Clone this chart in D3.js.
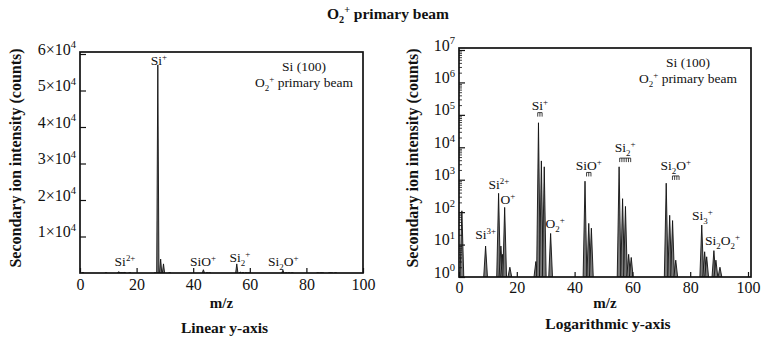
<!DOCTYPE html>
<html>
<head>
<meta charset="utf-8">
<script src="https://cdn.jsdelivr.net/npm/d3@7"></script>
<style>
  body { margin: 0; background: #fff; }
  svg { display: block; }
  text { font-family: "Liberation Serif", "Times New Roman", serif; fill: #111; }
</style>
</head>
<body>
<script>
const width = 761;
const height = 339;

// Peaks (m/z and secondary ion counts).
const peakMz     = [1.0, 9.2, 13.7, 14.5, 15.1, 15.8, 17.6, 26.6, 27.5, 28.5, 29.5, 31.7,
                    43.6, 44.9, 45.8, 55.4, 56.6, 57.6, 58.7, 59.6, 71.7, 72.9, 73.9, 75.0,
                    84.0, 85.0, 85.7, 88.2, 88.9, 90.3];
const peakCounts = [110, 9, 380, 9, 5, 140, 2, 3, 57000, 3800, 2500, 22,
                    900, 45, 32, 2500, 260, 150, 5, 4, 780, 80, 55, 3.3,
                    40, 6, 4.2, 6.5, 3.3, 2];

// Axis ticks.
const xTicks = [0, 20, 40, 60, 80, 100];
const linTicks = [1e4, 2e4, 3e4, 4e4, 5e4, 6e4];
const logTicks = [1, 10, 100, 1e3, 1e4, 1e5, 1e6, 1e7];

// Peak labels: text (_ = subscript, ^ = superscript), m/z, counts, isotope comb prongs.
const linLabelText   = ["Si^+", "Si^{2+}", "SiO^+", "Si_2^+", "Si_2O^+"];
const linLabelMz     = [27.9, 15.9, 43.5, 56.5, 71.8];
const linLabelCounts = [57000, 1900, 1900, 3000, 1900];

const logLabelText   = ["Si^+", "Si^{2+}", "O^+", "Si^{3+}", "O_2^+", "SiO^+", "Si_2^+", "Si_2O^+", "Si_3^+", "Si_2O_2^+"];
const logLabelMz     = [28.0, 13.8, 16.9, 9.2, 33.3, 44.9, 57.5, 75.0, 84.2, 91.2];
const logLabelCounts = [1.4e5, 500, 178, 15, 32, 2000, 7100, 2000, 57, 9.7];
const logLabelComb   = [3, 0, 0, 0, 0, 3, 6, 4, 0, 0];

const svg = d3.select("body").append("svg")
  .attr("width", width)
  .attr("height", height);

// Parse "Si_2O^+" style strings into [text, kind] pieces.
function parseRich(s) {
  const out = [];
  let buf = "", i = 0;
  while (i < s.length) {
    const c = s[i];
    if (c === "_" || c === "^") {
      if (buf) { out.push([buf, ""]); buf = ""; }
      let t;
      if (s[i + 1] === "{") {
        const j = s.indexOf("}", i);
        t = s.slice(i + 2, j);
        i = j + 1;
      } else {
        t = s[i + 1];
        i += 2;
      }
      out.push([t, c === "_" ? "sub" : "sup"]);
    } else {
      buf += c;
      i++;
    }
  }
  if (buf) out.push([buf, ""]);
  return out;
}

function richText(sel, s, fs) {
  let shift = 0;
  parseRich(s).forEach(([t, k]) => {
    const target = k === "sup" ? -0.38 * fs : k === "sub" ? 0.28 * fs : 0;
    sel.append("tspan")
      .attr("dy", target - shift)
      .attr("font-size", k ? fs * 0.66 : fs)
      .text(t);
    shift = target;
  });
}

// Title.
const title = svg.append("text")
  .attr("x", 388).attr("y", 19)
  .attr("text-anchor", "middle")
  .attr("font-weight", "bold");
richText(title, "O_2^+ primary beam", 15.5);

function drawPanel(opts) {
  const { x, y, top, base, ticksY, minorY, fmtY, labels, axisTitle, insetX } = opts;
  const g = svg.append("g");
  const x0 = x.range()[0];
  const x1 = opts.right;
  const y1 = opts.bottom;

  g.append("clipPath").attr("id", opts.id)
    .append("rect").attr("x", x0).attr("y", top).attr("width", x1 - x0).attr("height", y1 - top);

  // Spectrum peaks as narrow spikes.
  const hw = opts.halfWidth;
  g.append("g").attr("clip-path", `url(#${opts.id})`)
    .selectAll("path")
    .data(peakMz.map((m, i) => [m, peakCounts[i]]))
    .join("path")
    .attr("d", ([m, c]) => `M${x(m - hw)},${y(base)}L${x(m)},${y(c)}L${x(m + hw)},${y(base)}Z`)
    .attr("fill", "#7a7a7a")
    .attr("stroke", "#111")
    .attr("stroke-width", 0.9);

  // X axis with inward ticks.
  const xa = g.append("g")
    .attr("transform", `translate(0,${y1})`)
    .call(d3.axisBottom(x).tickValues(xTicks).tickSize(-5).tickPadding(opts.xPad));
  xa.attr("font-family", null).attr("font-size", opts.tickFont);
  xa.select(".domain").remove();
  xa.selectAll("line").attr("stroke", "#111").attr("stroke-width", 1.2);

  // Y axis with inward ticks.
  const ya = g.append("g")
    .attr("transform", `translate(${x0},0)`)
    .call(d3.axisLeft(y).tickValues(ticksY).tickSize(-6).tickPadding(4).tickFormat(""));
  ya.attr("font-family", null).attr("font-size", opts.tickFont);
  ya.select(".domain").remove();
  ya.selectAll("line").attr("stroke", "#111").attr("stroke-width", 1.2);
  ya.selectAll(".tick text").each(function (d) {
    richText(d3.select(this), fmtY(d), opts.tickFont);
  });

  if (minorY) {
    const ym = g.append("g")
      .attr("transform", `translate(${x0},0)`)
      .call(d3.axisLeft(y).tickValues(minorY).tickSize(-3).tickFormat(""));
    ym.select(".domain").remove();
    ym.selectAll("line").attr("stroke", "#111").attr("stroke-width", 0.8);
  }

  // Frame.
  g.append("rect")
    .attr("x", x0).attr("y", top)
    .attr("width", x1 - x0).attr("height", y1 - top)
    .attr("fill", "none")
    .attr("stroke", "#111")
    .attr("stroke-width", 1.7);

  // Peak labels.
  labels.text.forEach((s, i) => {
    const lx = x(labels.mz[i]);
    const ly = y(labels.counts[i]);
    const t = g.append("text")
      .attr("x", lx).attr("y", ly)
      .attr("text-anchor", "middle");
    richText(t, s, 13.5);
    const n = labels.comb ? labels.comb[i] : 0;
    if (n) {
      const sp = 2.2;
      const cy = ly + (s.includes("_") ? 6 : 2.5);
      const cx0 = lx - (n - 1) * sp / 2;
      let d = `M${cx0},${cy}H${cx0 + (n - 1) * sp}`;
      for (let k = 0; k < n; k++) d += `M${cx0 + k * sp},${cy}V${cy + 4}`;
      g.append("path").attr("d", d).attr("stroke", "#111").attr("stroke-width", 0.8).attr("fill", "none");
    }
  });

  // Inset text.
  g.append("text").attr("x", insetX).attr("y", top + 19)
    .attr("text-anchor", "middle").attr("font-size", 13.5).text("Si (100)");
  const inset = g.append("text").attr("x", insetX).attr("y", top + 35)
    .attr("text-anchor", "middle");
  richText(inset, "O_2^+ primary beam", 13.5);

  // Axis titles.
  g.append("text")
    .attr("x", (x0 + x1) / 2).attr("y", 308)
    .attr("text-anchor", "middle")
    .attr("font-weight", "bold").attr("font-size", 15)
    .text("m/z");
  g.append("text")
    .attr("x", (x0 + x1) / 2 + 3).attr("y", opts.captionY)
    .attr("text-anchor", "middle")
    .attr("font-weight", "bold").attr("font-size", 15.5)
    .text(axisTitle);
  g.append("text")
    .attr("transform", `translate(${opts.ylabX},${opts.ylabY}) rotate(-90)`)
    .attr("text-anchor", "middle")
    .attr("font-weight", "bold").attr("font-size", 16)
    .text("Secondary ion intensity (counts)");
}

// Left: linear y axis.
drawPanel({
  id: "clipLin",
  x: d3.scaleLinear().domain([0, 100]).range([80, 363]),
  y: d3.scaleLinear().domain([0, 60000]).range([273, 54]),
  top: 52, bottom: 273, right: 363, base: 0,
  halfWidth: 0.4,
  ticksY: linTicks,
  fmtY: d => `${d / 1e4}×10^4`,
  labels: { text: linLabelText, mz: linLabelMz, counts: linLabelCounts },
  tickFont: 16, xPad: 6,
  axisTitle: "Linear y-axis", captionY: 333,
  insetX: 304,
  ylabX: 21, ylabY: 158
});

// Right: logarithmic y axis.
const minorTicks = [];
logTicks.slice(0, -1).forEach(d => { for (let k = 2; k <= 9; k++) minorTicks.push(d * k); });

drawPanel({
  id: "clipLog",
  x: d3.scaleLinear().domain([0, 100]).range([459, 748]),
  y: d3.scaleLog().domain([1, 1e7]).range([277, 50]),
  top: 48, bottom: 277, right: 751, base: 1,
  halfWidth: 0.65,
  ticksY: logTicks,
  minorY: minorTicks,
  fmtY: d => `10^${Math.round(Math.log10(d))}`,
  labels: { text: logLabelText, mz: logLabelMz, counts: logLabelCounts, comb: logLabelComb },
  tickFont: 16, xPad: 5,
  axisTitle: "Logarithmic y-axis", captionY: 329,
  insetX: 688,
  ylabX: 418, ylabY: 158
});
</script>
</body>
</html>
